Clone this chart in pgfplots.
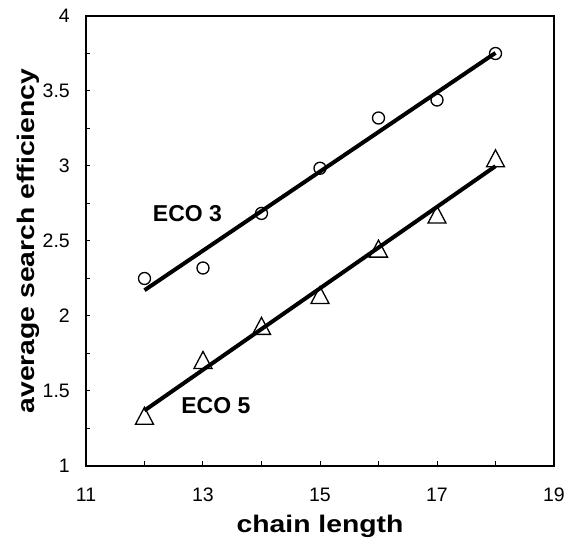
\documentclass[border=0pt]{standalone}
\usepackage{pgfplots}
\usepackage{graphicx}
\usepackage{fontspec}
\setmainfont{Liberation Sans}
\pgfplotsset{compat=1.18}
\pgfdeclareplotmark{tri}{%
  \pgfpathmoveto{\pgfqpoint{0bp}{8.5bp}}%
  \pgfpathlineto{\pgfqpoint{-9bp}{-8.5bp}}%
  \pgfpathlineto{\pgfqpoint{9bp}{-8.5bp}}%
  \pgfpathclose
  \pgfusepathqstroke}
\begin{document}
\begin{tikzpicture}
\path[use as bounding box] (-86bp,-72bp) rectangle (480bp,466bp);
\begin{axis}[
  scale only axis,
  width=468bp, height=450bp,
  xmin=11, xmax=19, ymin=1, ymax=4,
  xtick={11,13,15,17,19},
  minor xtick={12,14,16,18},
  ytick={1,1.5,2,2.5,3,3.5,4},
  minor ytick={1.25,1.75,2.25,2.75,3.25,3.75},
  xtick pos=lower, ytick pos=left,
  tick align=inside,
  major tick length=4.5bp, minor tick length=4.5bp,
  every tick/.style={black, line width=1bp},
  axis line style={line width=1.4bp},
  /pgf/number format/assume math mode=true,
  tick label style={font=\fontsize{19.5bp}{23bp}\selectfont},
  xticklabel style={anchor=north, inner sep=0pt, yshift=-22bp},
  yticklabel style={anchor=east, inner sep=0pt, xshift=-16bp},
  xlabel={\scalebox{1.18}[1]{\bfseries chain length}},
  ylabel={\scalebox{1.18}[1]{\bfseries average search efficiency}},
  xlabel style={at={(axis description cs:0.5,-0.1467)}, anchor=base, inner sep=0pt, font=\fontsize{24bp}{28bp}\selectfont},
  ylabel style={at={(axis description cs:-0.109,0.5)}, anchor=base, inner sep=0pt, rotate=0, font=\fontsize{24bp}{28bp}\selectfont},
  clip=false,
]
% ECO 3 data
\addplot[only marks, mark=o, mark size=6bp, mark options={line width=1.3bp, black}]
  coordinates {(12,2.25)(13,2.32)(14,2.684)(15,2.985)(16,3.32)(17,3.44)(18,3.75)};
% ECO 3 fit
\addplot[black, line width=4bp, no marks] coordinates {(12,2.172)(18,3.754)};
% ECO 5 data
\addplot[only marks, mark=tri, mark options={line width=1.3bp, black}]
  coordinates {(12,1.335)(13,1.707)(14,1.934)(15,2.14)(16,2.449)(17,2.676)(18,3.051)};
% ECO 5 fit
\addplot[black, line width=4bp, no marks] coordinates {(12,1.37)(18,2.999)};
\node[font=\fontsize{23bp}{27bp}\selectfont\bfseries, inner sep=0pt] at (axis cs:12.735,2.683) {ECO 3};
\node[font=\fontsize{23bp}{27bp}\selectfont\bfseries, inner sep=0pt] at (axis cs:13.22,1.403) {ECO 5};
\end{axis}
\end{tikzpicture}
\end{document}
